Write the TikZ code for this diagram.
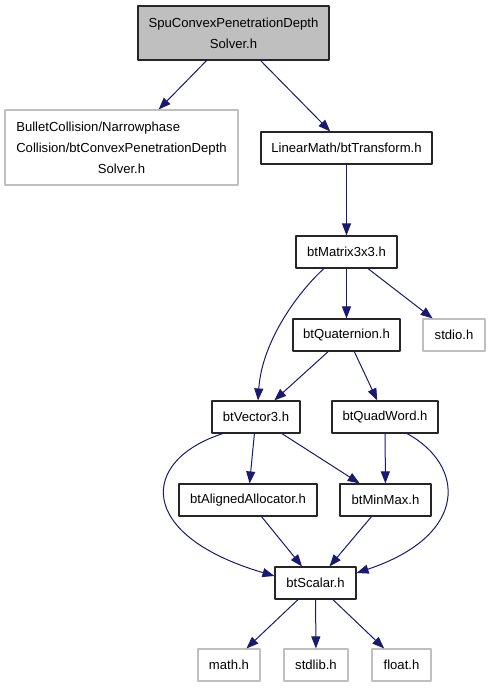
\documentclass[tikz,border=0pt]{standalone}
\usepackage{fontspec}
\setmainfont{Liberation Sans}
\usetikzlibrary{arrows.meta}
\definecolor{edgeblue}{HTML}{191970}
\definecolor{boxgray}{HTML}{BFBFBF}
\tikzset{
	file/.style={draw=black!85, line width=1.1pt, inner sep=0pt, align=center, minimum height=32pt},
	extfile/.style={file, draw=boxgray},
	dep/.style={draw=edgeblue, line width=1pt, -{Triangle[length=12pt,width=9pt]}}
}
\begin{document}
\begin{tikzpicture}[x=1pt, y=-1pt, font=\fontsize{13.1}{21}\selectfont, line join=round, line cap=round]
				\useasboundingbox (0,0) rectangle (491,688);
				\node[file, fill=boxgray, minimum width=191pt, minimum height=54pt] (spu) at (233.5,33) {SpuConvexPenetrationDepth\\Solver.h};
				\node[extfile, minimum width=233pt, minimum height=75pt] (narrow) at (121.5,147.5) {\rlap{BulletCollision/Narrowphase}\phantom{Collision/btConvexPenetrationDepth}\\Collision/btConvexPenetrationDepth\\Solver.h};
				\node[file, minimum width=171pt] (transform) at (346.5,148) {LinearMath/btTransform.h};
				\node[file, minimum width=101pt] (matrix) at (346.5,252) {btMatrix3x3.h};
				\node[file, minimum width=107pt] (quat) at (346.5,335) {btQuaternion.h};
				\node[extfile, minimum width=62pt] (stdio) at (454,335) {stdio.h};
				\node[file, minimum width=88pt] (vector) at (256,417) {btVector3.h};
				\node[file, minimum width=106pt] (quadword) at (385,417) {btQuadWord.h};
				\node[file, minimum width=138pt] (aligned) at (248,500) {btAlignedAllocator.h};
				\node[file, minimum width=91pt] (minmax) at (385.5,500) {btMinMax.h};
				\node[file, minimum width=81pt] (scalar) at (315.5,583) {btScalar.h};
				\node[extfile, minimum width=62pt] (math) at (229,665) {math.h};
				\node[extfile, minimum width=64pt] (stdlib) at (316,665) {stdlib.h};
				\node[extfile, minimum width=59pt] (float) at (401.5,665) {float.h};
				
				\draw[dep] (spu) -- (narrow);
				\draw[dep] (spu) -- (transform);
				\draw[dep] (transform) -- (matrix);
				\draw[dep] ([xshift=-22.5pt]matrix.south) .. controls (300,290) and (262,340) .. ([xshift=2pt]vector.north);
				\draw[dep] (matrix) -- (quat);
				\draw[dep] (matrix) -- (stdio);
				\draw[dep] (quat) -- (vector);
				\draw[dep] (quat) -- (quadword);
				\draw[dep] ([xshift=-33pt]vector.south) .. controls (140,460) and (135,535) .. ([yshift=7pt]scalar.west);
				\draw[dep] (vector) -- (aligned);
				\draw[dep] (vector) -- (minmax);
				\draw[dep] (quadword) -- (minmax);
				\draw[dep] ([xshift=22pt]quadword.south) .. controls (465,465) and (470,535) .. ([yshift=10pt]scalar.east);
				\draw[dep] (aligned) -- (scalar);
				\draw[dep] (minmax) -- (scalar);
				\draw[dep] (scalar) -- (math);
				\draw[dep] (scalar) -- (stdlib);
				\draw[dep] (scalar) -- (float);
			\end{tikzpicture}
\end{document}
